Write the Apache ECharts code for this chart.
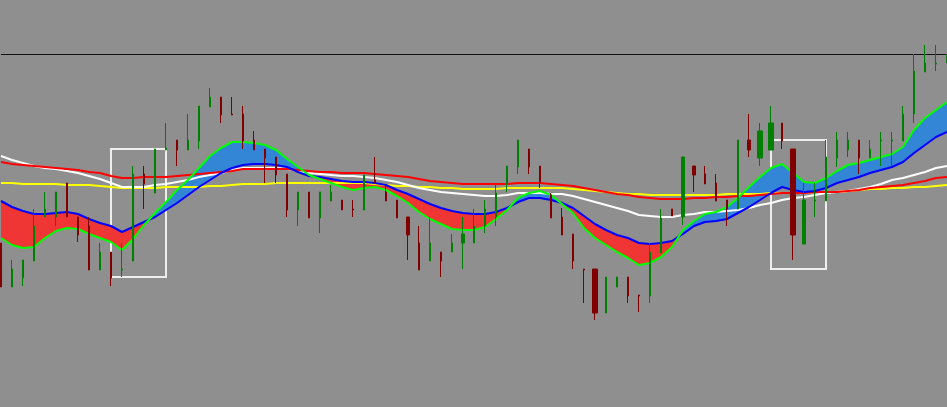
<!DOCTYPE html>
<html>
<head>
<meta charset="utf-8">
<script src="https://cdn.jsdelivr.net/npm/echarts@6/dist/echarts.min.js"></script>
<style>
html,body{margin:0;padding:0;background:#8f8f8f;overflow:hidden;}
#chart{width:947px;height:407px;}
</style>
</head>
<body>
<div id="chart"></div>
<script>
// Bars (categories)
const categories = ['1','2','3','4','5','6','7','8','9','10','11','12','13','14','15','16','17','18','19','20',
'21','22','23','24','25','26','27','28','29','30','31','32','33','34','35','36','37','38','39','40',
'41','42','43','44','45','46','47','48','49','50','51','52','53','54','55','56','57','58','59','60',
'61','62','63','64','65','66','67','68','69','70','71','72','73','74','75','76','77','78','79','80',
'81','82','83','84','85','86','87'];

// Price levels (scale runs downward: larger value = lower on the chart)
const openLv = [243,287,278,261,217,217,183,217,226,270, 252,270,261,174,193,150,140,150,141,107,
  97,114,114,140,149,157,174,210,192,218, 201,200,209,210,180,192,200,217,243,261,
  252,252,243,243,226,217,183,167,149,166, 195,217,234,269,269,313,287,277,295,296,
  253,209,217,166,174,183,200,209,140,158, 150,123,149,244,201,201,158,150,140,158,
  141,141,141,114,72,64,63];
const closeLv = [287,269,260,226,209,192,217,235,270,252, 278,269,174,184,149,148,150,140,106,97,
  115,115,141,150,158,175,210,192,218,192, 192,210,210,175,183,201,218,235,270,243,
  261,243,234,226,209,193,166,140,167,183, 218,235,261,270,313,277,277,296,296,252,
  218,216,157,175,184,201,209,140,150,131, 123,141,235,200,200,157,140,140,158,149,
  140,140,114,71,63,63,55];
const highLv = [243,260,260,209,192,192,183,217,217,243, 252,243,166,166,149,123,140,114,106,88,
  97,97,106,131,149,157,174,192,192,192, 185,200,200,175,157,185,200,217,226,217,
  252,234,217,209,200,183,166,140,149,166, 193,208,234,269,269,277,277,277,295,243,
  209,209,157,166,166,174,200,140,114,123, 106,123,149,183,183,140,132,132,140,140,
  132,132,106,54,45,45,54];
const lowLv = [287,287,286,261,217,226,217,242,270,270, 286,277,261,209,193,150,166,150,149,107,
  123,115,149,150,183,183,217,226,218,233, 201,210,217,210,183,201,218,260,270,261,
  277,252,269,243,233,226,192,174,174,188, 218,235,269,303,320,313,287,303,312,303,
  253,216,225,192,184,201,226,209,157,166, 150,149,260,244,217,201,167,157,174,158,
  166,166,141,123,72,71,63];

// Moving averages
const fastMA = [238,245,248,247,238,231,228,229,234,238, 242,250,239,225,213,202,190,180,168,156,
  148,142,142,143,145,150,159,167,175,179, 183,187,190,188,187,190,196,203,212,219,
  224,229,230,230,227,219,210,198,193,191, 195,204,213,228,238,245,252,258,265,263,
  257,247,230,221,214,212,207,198,187,177, 168,164,173,182,183,178,171,165,163,160,
  157,154,147,130,118,110,102];
const signalMA = [201,207,211,214,214,213,212,214,219,223, 226,232,227,222,217,210,203,195,187,180,
  173,168,165,164,164,165,167,172,176,177, 179,181,182,182,183,185,190,194,199,204,
  208,211,213,214,214,212,208,202,198,198, 200,203,208,216,224,230,235,238,243,244,
  243,241,234,226,222,221,219,213,207,200, 193,187,190,192,191,188,183,180,177,173,
  170,167,162,153,145,137,132];
const slowMA = [162,164,165,166,167,168,169,170,172,173, 176,178,178,177,177,177,176,175,174,173,
  172,171,169,169,169,169,169,170,171,172, 172,173,173,173,174,175,176,177,179,181,
  182,183,184,184,184,184,184,183,183,183, 184,185,186,188,190,192,194,195,197,198,
  199,199,199,198,198,197,197,196,196,195, 194,193,193,193,192,192,192,191,190,188,
  187,186,185,183,181,178,177];
const midMA = [156,160,163,166,168,169,171,173,176,179, 183,187,187,187,185,184,182,180,177,175,
  173,170,168,168,168,168,169,171,173,174, 175,176,176,177,178,180,182,185,188,190,
  192,193,194,195,196,196,195,193,193,193, 194,194,196,199,202,205,208,211,215,216,
  217,217,215,214,212,212,211,210,208,205, 203,200,198,197,195,193,192,191,189,187,
  184,180,178,175,172,168,166];
const longMA = [183,183,184,184,184,184,185,185,185,186, 187,188,188,188,188,187,187,187,187,186,
  186,185,184,184,184,183,183,183,183,183, 183,183,183,183,184,185,186,186,187,187,
  188,188,189,189,189,189,188,188,188,188, 188,188,189,190,191,192,193,194,194,195,
  195,195,195,195,195,195,194,194,194,194, 193,193,193,193,192,192,192,191,190,189,
  189,188,188,187,187,186,185];

// Annotations
const levelLine = [54];
const boxStart = [10, 70];
const boxEnd = [15, 75];
const boxTop = [149, 140];
const boxBottom = [277, 269];

// Body-width groups (style)
const mediumBodies = [37,42,62,63,68,73];
const wideBodies = [54,69,70,72];

const ohlc = openLv.map((o,i)=>[o, closeLv[i], highLv[i], lowLv[i]]);
const empty = ['-','-','-','-'];
function candle(name, pick, bw){
  return {
    type:'candlestick', name, z:5, barWidth:bw, silent:true,
    data: ohlc.map((d,i)=>pick(i)?d:empty),
    itemStyle:{color:'#800000', color0:'#008000', borderColor:'#800000', borderColor0:'#008000', borderWidth:1}
  };
}
const fillBase = fastMA.map((g,i)=>Math.min(g, signalMA[i]));
const redGap = fastMA.map((g,i)=>g > signalMA[i] ? g - signalMA[i] : 0);
const blueGap = fastMA.map((g,i)=>g < signalMA[i] ? signalMA[i] - g : 0);

function line(name, data, color, z){
  return {type:'line', name, data, z, symbol:'none', silent:true, smooth:false,
    lineStyle:{color, width:2}};
}
function hidden(name, data, stack){
  return {type:'line', name, data, stack, z:1, symbol:'none', silent:true,
    lineStyle:{width:0, opacity:0}};
}
function gap(name, data, stack, color){
  return {type:'line', name, data, stack, z:1, symbol:'none', silent:true,
    lineStyle:{width:0, opacity:0}, areaStyle:{color, opacity:1}};
}

const chart = echarts.init(document.getElementById('chart'), null, {renderer:'canvas'});
chart.setOption({
  animation:false,
  backgroundColor:'#8f8f8f',
  grid:{left:1, right:0, top:0, bottom:0},
  xAxis:{type:'category', data:categories, boundaryGap:false, show:false},
  yAxis:{type:'value', min:0, max:407, inverse:true, show:false, splitLine:{show:false}},
  series:[
    hidden('redBase', fillBase, 'red'),
    gap('redFill', redGap, 'red', '#f03535'),
    hidden('blueBase', fillBase, 'blue'),
    gap('blueFill', blueGap, 'blue', '#3385d6'),
    line('longMA', longMA, '#ffff00', 2),
    line('midMA', midMA, '#ffffff', 2),
    line('slowMA', slowMA, '#ff0000', 2),
    line('signalMA', signalMA, '#0000ff', 3),
    line('fastMA', fastMA, '#00ff00', 3),
    {
      type:'line', name:'annotations', data:[], z:4, silent:true,
      markArea:{
        silent:true,
        itemStyle:{color:'rgba(0,0,0,0)', borderColor:'#eeeeee', borderWidth:2},
        label:{show:false},
        data: boxStart.map((s,k)=>[{coord:[s, boxTop[k]]},{coord:[boxEnd[k], boxBottom[k]]}])
      },
      markLine:{
        silent:true, symbol:['none','none'], label:{show:false},
        lineStyle:{color:'#111111', width:1, type:'solid'},
        data: levelLine.map(v=>({yAxis:v}))
      }
    },
    candle('bars', i=>mediumBodies.indexOf(i)<0 && wideBodies.indexOf(i)<0, 2),
    candle('barsMedium', i=>mediumBodies.indexOf(i)>=0, 4),
    candle('barsWide', i=>wideBodies.indexOf(i)>=0, 6)
  ]
});
</script>
</body>
</html>
